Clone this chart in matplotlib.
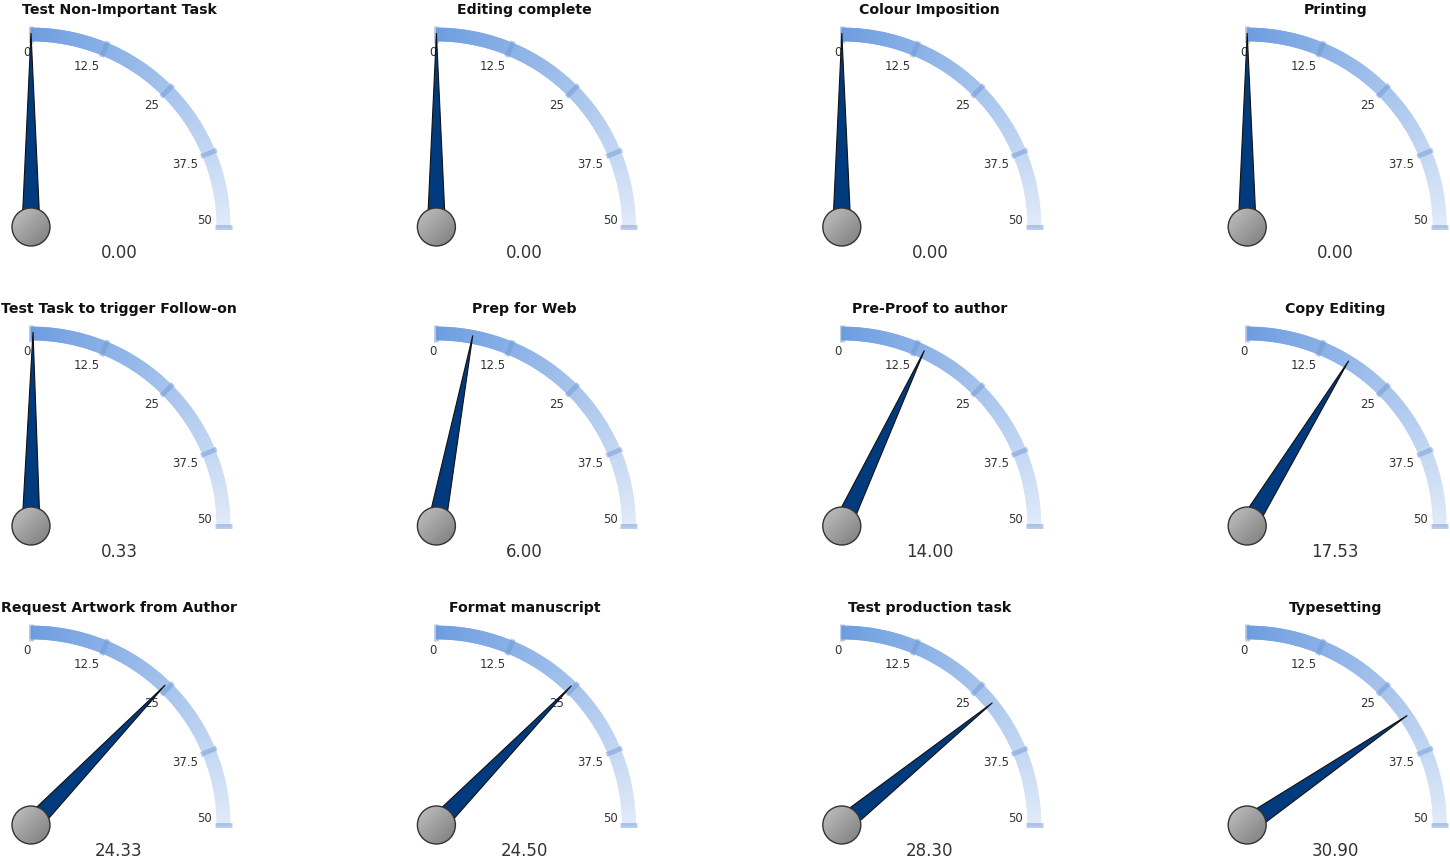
import numpy as np
import matplotlib.pyplot as plt
from matplotlib.collections import PolyCollection
from matplotlib.patches import Circle, Polygon
from matplotlib.colors import LinearSegmentedColormap

# task names and their gauge readings
titles = ["Test Non-Important Task", "Editing complete", "Colour Imposition", "Printing",
          "Test Task to trigger Follow-on", "Prep for Web", "Pre-Proof to author", "Copy Editing",
          "Request Artwork from Author", "Format manuscript", "Test production task", "Typesetting"]
values = [0.00, 0.00, 0.00, 0.00,
          0.33, 6.00, 14.00, 17.53,
          24.33, 24.50, 28.30, 30.90]
scale_max = 50
tick_values = [0, 12.5, 25, 37.5, 50]
tick_labels = ["0", "12.5", "25", "37.5", "50"]

W, H = 1450, 864
fig = plt.figure(figsize=(W / 100, H / 100), dpi=100)
ax = fig.add_axes([0, 0, 1, 1])
ax.set_xlim(0, W)
ax.set_ylim(H, 0)
ax.axis("off")

band_cmap = LinearSegmentedColormap.from_list("band", ["#6c9de0", "#e0eaf9"])
hub_cmap = LinearSegmentedColormap.from_list("hub", ["#c2c2c2", "#7c7c7c"])

r_in, r_out = 186, 199
needle_len = 194
needle_half = 9
hub_r = 19


def pt(px, py, v, r):
    a = np.radians(90 - v / scale_max * 90)
    return px + r * np.cos(a), py - r * np.sin(a)


def gauge(px, py, title, val):
    # gradient band made from thin slices
    n = 180
    edges = np.linspace(0, scale_max, n + 1)
    polys, cols = [], []
    for k in range(n):
        v0, v1 = edges[k], edges[k + 1]
        polys.append([pt(px, py, v0, r_in), pt(px, py, v0, r_out),
                      pt(px, py, v1, r_out), pt(px, py, v1, r_in)])
        cols.append(band_cmap((v0 + v1) / 2 / scale_max))
    ax.add_collection(PolyCollection(polys, facecolors=cols, edgecolors=cols,
                                     linewidths=0.6, zorder=2))

    # tick marks and labels
    for tv, tl in zip(tick_values, tick_labels):
        x0, y0 = pt(px, py, tv, r_in - 2)
        x1, y1 = pt(px, py, tv, r_out + 2)
        ax.plot([x0, x1], [y0, y1], color="#7199d4", alpha=0.5, lw=3.5,
                solid_capstyle="butt", zorder=3)
        lx, ly = pt(px, py, tv, 181)
        ax.text(lx, ly, tl, ha="right", va="bottom" if tv == scale_max else "top",
                fontsize=8.5, color="#333333", zorder=4)

    # needle
    a = np.radians(90 - val / scale_max * 90)
    tip = (px + needle_len * np.cos(a), py - needle_len * np.sin(a))
    nx, ny = np.sin(a), np.cos(a)
    base1 = (px - needle_half * nx, py - needle_half * ny)
    base2 = (px + needle_half * nx, py + needle_half * ny)
    ax.add_patch(Polygon([base1, tip, base2], closed=True, facecolor="#023a7e",
                         edgecolor="#111111", lw=0.8, joinstyle="miter", zorder=5))

    # hub with grey gradient
    hub = Circle((px, py), hub_r, facecolor="none", edgecolor="#333333", lw=1.0, zorder=7)
    ax.add_patch(hub)
    gx, gy = np.meshgrid(np.linspace(0, 1, 40), np.linspace(0, 1, 40))
    im = ax.imshow((gx + gy) / 2, cmap=hub_cmap, extent=(px - hub_r, px + hub_r, py + hub_r, py - hub_r),
                   origin="upper", zorder=6, interpolation="bilinear")
    im.set_clip_path(Circle((px, py), hub_r, transform=ax.transData))

    ax.text(px + 88, py - 217, title, ha="center", va="center", fontsize=10.2,
            fontweight="bold", color="#111111")
    ax.text(px + 88, py + 26, f"{val:.2f}", ha="center", va="center", fontsize=12,
            color="#333333")


for i in range(3):
    for j in range(4):
        k = i * 4 + j
        gauge(31 + 405.4 * j, 227 + 299 * i, titles[k], values[k])

ax.set_xlim(0, W)
ax.set_ylim(H, 0)
fig.savefig("out.png", dpi=100)
